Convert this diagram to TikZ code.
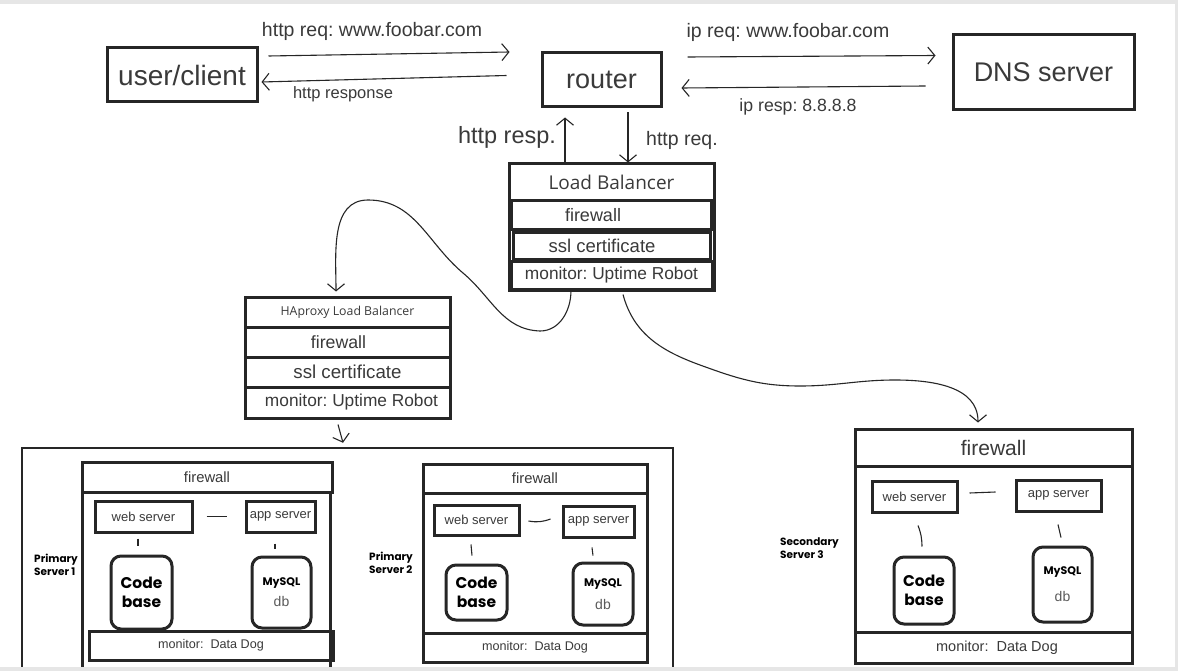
\documentclass[tikz,border=0pt]{standalone}
\usepackage{fontspec}
\setmainfont{Liberation Sans}
\newfontfamily\pop{Poppins}
\newfontfamily\opn{Open Sans}
\usetikzlibrary{arrows.meta}
\definecolor{ln}{HTML}{262626}
\definecolor{tc}{HTML}{3A3A3A}
\definecolor{dbc}{HTML}{5A5A5A}
\definecolor{fr}{HTML}{E6E6E6}
\frenchspacing
\newcommand\fs[1]{\fontsize{#1}{#1}\selectfont}
\newcommand\tx[2]{\makebox[0pt]{\hspace*{#1}#2}}
\newcommand\mybox[7]{\node[#6, minimum width={(#4)-(#2)}, minimum height={(#5)-(#3)}] (#1) at ({((#2)+(#4))/2},{((#3)+(#5))/2}) {#7};}
\tikzset{
  bx/.style={draw=ln, line width=3pt, inner sep=0pt, text=tc},
  rbx/.style={bx, rounded corners=10pt, align=center},
  codebx/.style={rbx, text=black, font=\pop\bfseries\fontsize{15.5}{19}\selectfont},
  arr/.style={draw=ln, line width=1.1pt, -{Straight Barb[length=7pt,width=17pt,line width=1.1pt]}},
  cn/.style={draw=ln, line width=1.1pt},
  lbl/.style={text=tc, inner sep=0pt},
  srvlbl/.style={text=black, inner sep=0pt, align=left, font=\pop\bfseries\fontsize{10.5}{13}\selectfont},
}
\begin{document}
\begin{tikzpicture}[x=1pt,y=-1pt]
\useasboundingbox (0,0) rectangle (1178,671);
\fill[white] (0,0) rectangle (1178,671);

% top row
\mybox{uc}{107}{48}{257}{102}{bx}{\fs{28}user/client}
\mybox{rt}{542}{53}{661}{107}{bx}{\fs{27}router}
\mybox{dns}{953}{35}{1134}{110}{bx}{\fs{27}DNS server}

\draw[arr] ([xshift=10pt,yshift=19pt]uc.east) -- ([xshift=-31pt,yshift=28pt]rt.west);
\node[lbl,font=\fs{19.5}] (l1) at (372,31) {http req: www.foobar.com};
\draw[arr] ([xshift=-34pt,yshift=4.5pt]rt.west) -- ([xshift=3pt,yshift=-7pt]uc.east);
\node[lbl,font=\fs{16.5}] (l2) at (343,94) {http response};

\draw[arr] ([xshift=25pt,yshift=23pt]rt.east) -- ([xshift=-16pt,yshift=17pt]dns.west);
\node[lbl,font=\fs{19.5}] (l3) at (788,32) {ip req: www.foobar.com};
\draw[arr] ([xshift=-26pt,yshift=-13.5pt]dns.west) -- ([xshift=19pt,yshift=-8pt]rt.east);
\node[lbl,font=\fs{17.7}] (l4) at (798,107) {ip resp: 8.8.8.8};

% load balancer
\mybox{lb}{509}{164}{714}{290}{bx}{}
\mybox{lbh}{509}{164}{714}{201}{bx}{\opn\fs{19}Load Balancer}
\mybox{lbf}{511}{201}{711}{230}{bx}{\tx{-36pt}{\fs{18}firewall}}
\mybox{lbs}{513}{233}{710}{259}{bx}{\tx{-19pt}{\fs{18.5}ssl certificate}}
\mybox{lbm}{511}{261}{712}{289}{bx}{\fs{17.3}monitor: Uptime Robot}

\draw[arr] ([xshift=-46.5pt]lbh.north) -- ([xshift=-36.5pt,yshift=-9pt]rt.south);
\draw[arr] ([xshift=26.5pt,yshift=-4pt]rt.south) -- ([xshift=16.5pt]lbh.north);
\node[lbl,font=\fs{23.5}] (l5) at (507,137) {http resp.};
\node[lbl,font=\fs{19.5}] (l6) at (682,140) {http req.};

% HAproxy
\mybox{hah}{245}{297}{450}{327}{bx}{\opn\fs{12.3}HAproxy Load Balancer}
\mybox{haf}{245}{327}{450}{357}{bx}{\tx{-18pt}{\fs{17.7}firewall}}
\mybox{has}{245}{357}{450}{387}{bx}{\fs{18.7}ssl certificate}
\mybox{ham}{245}{387}{450}{418}{bx}{\tx{8pt}{\fs{17.3}monitor: Uptime Robot}}

% left curve
\coordinate (c1) at (540,331);
\coordinate (c2) at (463,273);
\coordinate (c3) at (368,200);
\draw[arr] ([xshift=-40.5pt]lbm.south) to[out=-90,in=0] (c1) to[out=178,in=-40] (c2) to[out=140,in=0] (c3) to[out=180,in=90] ([xshift=-11.5pt,yshift=4pt]hah.north);

% primary group
\node[draw=ln, line width=2.5pt, inner sep=0pt, minimum width=651, minimum height=242] (grp) at (347.5,569) {};
\draw[arr] ([xshift=-9.5pt,yshift=-5pt]ham.south) -- ([xshift=-4.5pt,yshift=4pt]grp.north);

% server 1
\mybox{s1f}{82}{462}{332}{492}{bx}{\fs{14.8}firewall}
\mybox{s1b}{82}{492}{330}{690}{bx}{}
\mybox{s1m}{89}{631}{333}{660}{bx}{\fs{12.6}monitor:\ \ Data Dog}
\mybox{s1w}{95}{501}{192}{532}{bx}{\fs{13}web server}
\mybox{s1a}{246}{501}{315}{532}{bx}{\fs{13}app server}
\mybox{s1c}{111}{556}{172}{629}{codebx}{Code\\base}
\mybox{s1d}{252}{557}{311}{628}{rbx}{{\pop\bfseries\fs{11}\color{black}MySQL}\\[7pt]{\fs{14}\color{dbc}db}}
\draw[cn] ([xshift=13pt]s1w.east) -- ([xshift=-18pt]s1a.west);
\draw[cn] ([xshift=-5.5pt,yshift=-5pt]s1w.south) -- ([xshift=-3.5pt,yshift=9pt]s1c.north);
\draw[cn] ([xshift=-5.5pt,yshift=-10pt]s1a.south) -- ([xshift=-6.5pt,yshift=7pt]s1d.north);
\node[srvlbl] (p1) at (56,565) {Primary\\Server 1};

% server 2
\mybox{s2f}{423}{464}{647}{493}{bx}{\fs{14.8}firewall}
\mybox{s2b}{423}{493}{647}{633}{bx}{}
\mybox{s2m}{423}{633}{647}{662}{bx}{\fs{12.6}monitor:\ \ Data Dog}
\mybox{s2w}{434}{505}{519}{535}{bx}{\fs{13}web server}
\mybox{s2a}{563}{506}{634}{537}{bx}{\fs{13}app server}
\mybox{s2c}{446}{565}{507}{620}{codebx}{Code\\base}
\mybox{s2d}{573}{563}{633}{625}{rbx}{{\pop\bfseries\fs{11}\color{black}MySQL}\\[9pt]{\fs{14}\color{dbc}db}}
\draw[cn] ([xshift=8pt,yshift=-1pt]s2w.east) to[bend right=15] ([xshift=-11pt,yshift=2.5pt]s2a.west);
\draw[cn] ([xshift=-5.5pt,yshift=-8pt]s2w.south) -- ([xshift=-4.5pt,yshift=8pt]s2c.north);
\draw[cn] ([xshift=-6.5pt,yshift=-9pt]s2a.south) -- ([xshift=-10pt,yshift=6pt]s2d.north);
\node[srvlbl] (p2) at (391,563) {Primary\\Server 2};

% server 3
\mybox{s3}{855}{429}{1132}{663}{bx}{}
\mybox{s3f}{855}{429}{1132}{466}{bx}{\fs{21}firewall}
\mybox{s3m}{855}{632}{1132}{663}{bx}{\tx{7pt}{\fs{14.5}monitor:\ \ Data Dog}}
\mybox{s3w}{872}{481}{957}{512}{bx}{\fs{13}web server}
\mybox{s3a}{1016}{480}{1101}{511}{bx}{\fs{13}app server}
\mybox{s3c}{894}{557}{954}{624}{codebx}{Code\\base}
\mybox{s3d}{1033}{547}{1092}{622}{rbx}{{\pop\bfseries\fs{11}\color{black}MySQL}\\[13pt]{\fs{14}\color{dbc}db}}
\draw[cn] ([xshift=11pt,yshift=3.5pt]s3w.east) -- ([xshift=-19pt,yshift=3.5pt]s3a.west);
\draw[cn] ([xshift=3.5pt,yshift=-12pt]s3w.south) to[bend left=10] ([xshift=-2pt,yshift=9pt]s3c.north);
\draw[cn] ([xshift=-0.5pt,yshift=-12pt]s3a.south) -- ([xshift=-1.5pt,yshift=8pt]s3d.north);
\node[srvlbl, anchor=west] (p3) at (780,548) {Secondary\\Server 3};

% right curve
\coordinate (d1) at (700,365);
\coordinate (d2) at (800,386);
\coordinate (d3) at (895,380);
\draw[arr] ([xshift=11.5pt,yshift=-4pt]lbm.south) to[out=-75,in=160] (d1) to[out=-20,in=180] (d2) to[out=0,in=180] (d3) to[out=0,in=90] ([xshift=-15.5pt,yshift=5pt]s3f.north);

% screenshot frame
\fill[fr] (0,0) rectangle (1178,4);
\fill[fr] (0,667) rectangle (1178,671);
\fill[fr] (1175,0) rectangle (1178,671);
\end{tikzpicture}
\end{document}
